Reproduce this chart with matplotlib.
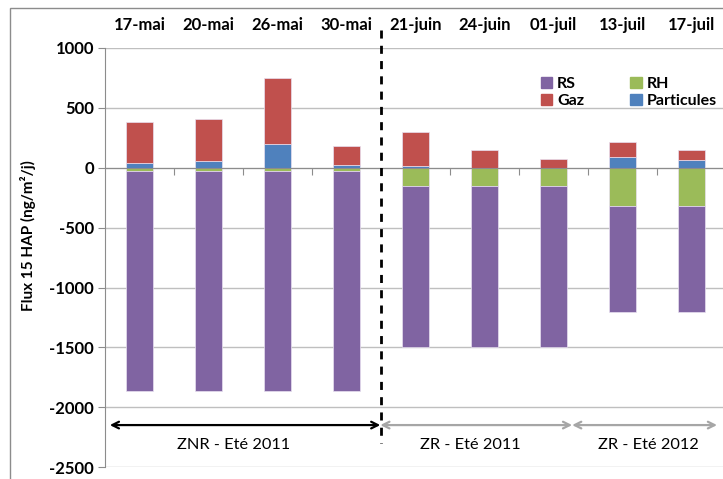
import numpy as np
import matplotlib
matplotlib.use("Agg")
import matplotlib.pyplot as plt
from matplotlib.patches import Rectangle, Patch

plt.rcParams["font.family"] = ["Lato", "DejaVu Sans"]
plt.rcParams["axes.unicode_minus"] = False

# data (ng/m2/j)
dates = ["17-mai", "20-mai", "26-mai", "30-mai", "21-juin", "24-juin", "01-juil", "13-juil", "17-juil"]
rh = [-28, -28, -28, -28, -155, -155, -155, -320, -320]
rs = [-1836, -1836, -1836, -1836, -1345, -1345, -1345, -883, -883]
particules = [36, 52, 197, 22, 13, 0, 0, 88, 67]
gaz = [344, 350, 553, 158, 284, 144, 72, 125, 83]
periods = ["ZNR - Eté 2011", "ZR - Eté 2011", "ZR - Eté 2012"]
period_centers = [1.36, 4.80, 7.37]
period_bounds = [(-0.43, 3.49), (3.49, 6.27), (6.27, 8.37)]
period_colors = ["black", "#a6a6a6", "#a6a6a6"]

c_rs, c_rh, c_gaz, c_part = "#8064A2", "#9BBB59", "#C0504D", "#4F81BD"
grey = "#8c8c8c"

fig = plt.figure(figsize=(7.23, 4.79), dpi=100)
fig.patches.append(Rectangle((10 / 723, -0.1), 1.1, 1.1 + (1 - 8 / 479) - 1,
                             transform=fig.transFigure, fill=False,
                             edgecolor=grey, lw=1))
ax = fig.add_axes([105 / 723, 11.6 / 479, 621 / 723, 419.7 / 479])

x = np.arange(len(dates))
w = 0.4
kw = dict(width=w, edgecolor="#e8e0f0", linewidth=0.5, zorder=2)
ax.bar(x, rh, color=c_rh, **kw)
ax.bar(x, rs, bottom=rh, color=c_rs, **kw)
ax.bar(x, particules, color=c_part, **kw)
ax.bar(x, gaz, bottom=particules, color=c_gaz, **kw)

ax.set_xlim(-0.5, 8.5)
ax.set_ylim(-2500, 1000)
ax.set_yticks(np.arange(-2500, 1001, 500))
ax.yaxis.grid(True, color="#bfbfbf", lw=1)
ax.set_axisbelow(True)
for s in ["top", "right"]:
    ax.spines[s].set_visible(False)
ax.spines["left"].set_color(grey)
ax.spines["bottom"].set_position(("data", 0))
ax.spines["bottom"].set_color(grey)
ax.spines["bottom"].set_zorder(3)
ax.set_xticks(x[:-1] + 0.5)
ax.set_xticklabels([])
ax.tick_params(axis="x", direction="out", length=5, color=grey)
ax.tick_params(axis="y", length=5, color=grey, labelsize=12, pad=3)
for lab in ax.get_yticklabels():
    lab.set_fontweight("bold")

for xi, d in zip(x, dates):
    ax.text(xi, 1.054, d, transform=ax.get_xaxis_transform(), ha="center",
            va="center", fontsize=12, fontweight="bold")

fig.text(28 / 723, 1 - 236 / 479, "Flux 15 HAP (ng/m²/j)", rotation=90,
         ha="center", va="center", fontsize=11, fontweight="bold")

# separation between zones
ax.plot([3.5, 3.5], [1147, -2297], color="black", lw=2,
        ls=(0, (2.9, 2.6)), clip_on=False, zorder=4)

for (x0, x1), lab, xc, col in zip(period_bounds, periods, period_centers, period_colors):
    ax.annotate("", xy=(x1, -2147), xytext=(x0, -2147),
                arrowprops=dict(arrowstyle="<->", color=col, lw=1.6,
                                shrinkA=0, shrinkB=0, mutation_scale=12),
                annotation_clip=False)
    ax.text(xc, -2313, lab, ha="center", va="center", fontsize=11.8)

handles = [Patch(color=c_rs), Patch(color=c_gaz), Patch(color=c_rh), Patch(color=c_part)]
labels = ["RS", "Gaz", "RH", "Particules"]
leg = ax.legend(handles, labels, ncol=2, frameon=False, loc="upper left",
                bbox_to_anchor=(533 / 723, 1 - 69 / 479),
                bbox_transform=fig.transFigure, borderpad=0,
                handlelength=0.7, handleheight=0.7, handletextpad=0.3,
                columnspacing=2.9, labelspacing=0.15,
                prop=dict(weight="bold", size=11.5))

fig.savefig("out.png", dpi=100)
